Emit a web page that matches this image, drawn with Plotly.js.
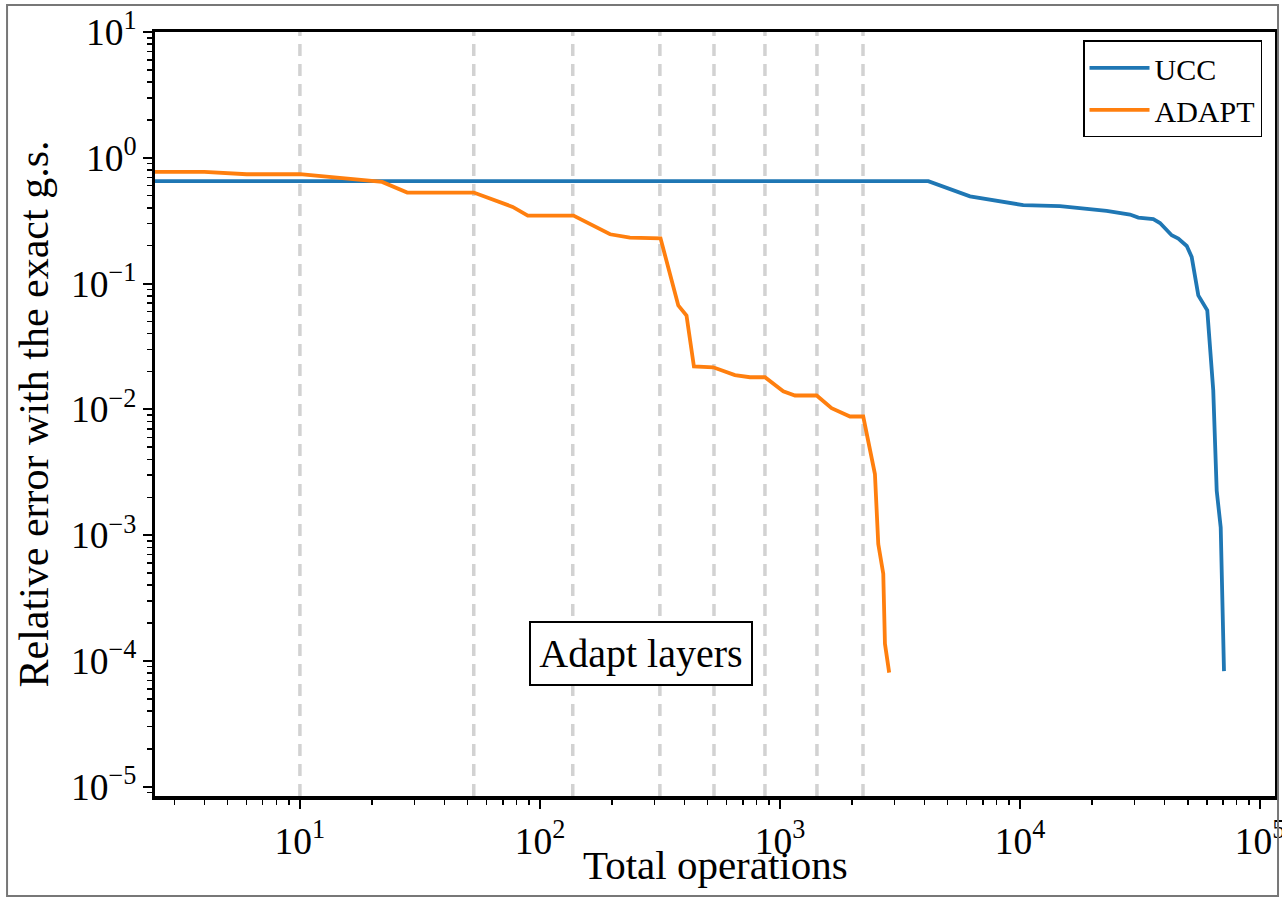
<!DOCTYPE html>
<html>
<head>
<meta charset="utf-8">
<script src="https://cdn.plot.ly/plotly-3.0.1.min.js"></script>
<style>
html,body{margin:0;padding:0;background:#fff;}
#chart{width:1282px;height:898px;}
</style>
</head>
<body>
<div id="chart"></div>
<script>
// ---- data ----
const uccOps = [2.4, 4150, 6190, 10320, 14680, 22960, 28730, 31120, 35930, 38310, 42860, 45680, 49520, 51920, 55330, 60300, 63860, 66010, 68600, 70790];
const uccErr = [0.652, 0.652, 0.494, 0.420, 0.412, 0.378, 0.354, 0.335, 0.325, 0.303, 0.242, 0.228, 0.199, 0.163, 0.0806, 0.0612, 0.01413, 0.00226, 0.00115, 0.000083];

const adaptOps = [2.4, 4, 6, 10, 22, 28, 53, 77, 89, 138, 196, 237, 318, 377, 408, 438, 527, 649, 750, 866, 1032, 1155, 1422, 1641, 1958, 2223, 2487, 2568, 2694, 2738, 2851];
const adaptErr = [0.773, 0.773, 0.740, 0.740, 0.643, 0.529, 0.529, 0.407, 0.347, 0.347, 0.2465, 0.232, 0.229, 0.067, 0.0558, 0.0219, 0.0216, 0.0187, 0.018, 0.018, 0.01394, 0.01288, 0.01288, 0.01021, 0.00877, 0.00877, 0.00306, 0.000849, 0.000493, 0.0001366, 0.0000807];

const layerOps = [10, 53, 137, 316, 531, 866, 1426, 2218];

const seriesNames = ['UCC', 'ADAPT'];
const xTitle = 'Total operations';
const yTitle = 'Relative error with the exact g.s.';
const boxText = 'Adapt layers';
// Plotly prints 1 and 10 plainly; show them as powers like the other decades
const tickAlias = {'1': '10<sup>0</sup>', '10': '10<sup>1</sup>'};

// ---- chart ----
const FONT = '"Liberation Serif", "Times New Roman", serif';

const traces = [
  {x: uccOps, y: uccErr, name: seriesNames[0], mode: 'lines', type: 'scatter',
   line: {color: '#1f77b4', width: 3.8}, legendgroup: 'a'},
  {x: adaptOps, y: adaptErr, name: seriesNames[1], mode: 'lines', type: 'scatter',
   line: {color: '#ff7f0e', width: 3.8}, legendgroup: 'b'}
];

const shapes = layerOps.map(v => ({
  type: 'line', xref: 'x', yref: 'paper', x0: v, x1: v, y0: 0, y1: 1,
  layer: 'below', line: {color: '#d2d2d2', width: 3.5, dash: '12px,8px'}
}));
// outer figure frame
shapes.push({type: 'rect', xref: 'paper', yref: 'paper',
  x0: -0.1321, x1: 1.0027, y0: -0.1309, y1: 1.0353,
  line: {color: '#777777', width: 2}, fillcolor: 'rgba(0,0,0,0)', layer: 'above'});

const axisCommon = {
  type: 'log', autorange: false,
  showgrid: false, zeroline: false,
  showline: true, linecolor: '#000', linewidth: 3.5, mirror: true,
  ticks: 'outside', ticklen: 9, tickwidth: 2, tickcolor: '#000',
  dtick: 1, exponentformat: 'power', labelalias: tickAlias,
  ticklabeloverflow: 'allow',
  tickfont: {family: FONT, size: 30, color: '#000'},
  minor: {ticks: 'outside', ticklen: 5, tickwidth: 1.5, tickcolor: '#000', dtick: 'D1', showgrid: false}
};

const layout = {
  width: 1282, height: 898,
  margin: {l: 155, r: 7, t: 32, b: 102, pad: 0},
  paper_bgcolor: '#ffffff', plot_bgcolor: '#ffffff',
  font: {family: FONT, color: '#000', size: 30},
  showlegend: true,
  xaxis: Object.assign({}, axisCommon, {
    range: [Math.log10(2.49), 5.0625],
    ticklabelstandoff: 2
  }),
  yaxis: Object.assign({}, axisCommon, {
    range: [-5.074, 1.0],
    title: {text: yTitle, font: {family: FONT, size: 42, color: '#000'}, standoff: 10}
  }),
  legend: {
    x: 0.9884, xanchor: 'right', y: 0.989, yanchor: 'top',
    bgcolor: '#ffffff', bordercolor: '#000', borderwidth: 1.5,
    font: {family: FONT, size: 30, color: '#000'},
    traceorder: 'grouped', tracegroupgap: 0, itemwidth: 60
  },
  shapes: shapes,
  annotations: [
    {
      text: boxText, xref: 'paper', yref: 'paper', x: 0.434, y: 0.186,
      xanchor: 'center', yanchor: 'middle', showarrow: false,
      font: {family: FONT, size: 40, color: '#000'},
      width: 210, height: 51,
      bordercolor: '#000', borderwidth: 2, borderpad: 5, bgcolor: '#ffffff'
    },
    {
      text: xTitle, xref: 'paper', yref: 'paper', x: 0.5, y: -0.057,
      xanchor: 'center', yanchor: 'top', showarrow: false,
      font: {family: FONT, size: 41, color: '#000'}
    }
  ]
};

Plotly.newPlot('chart', traces, layout, {displayModeBar: false, staticPlot: true});
</script>
</body>
</html>
